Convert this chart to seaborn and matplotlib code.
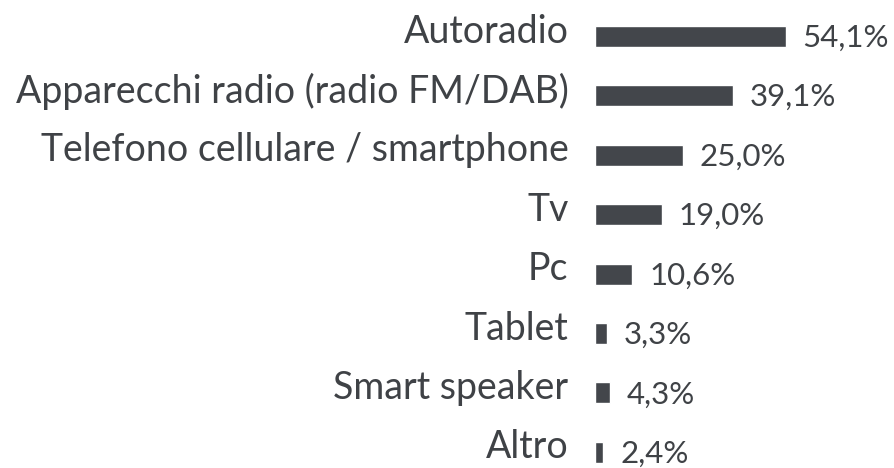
import matplotlib
matplotlib.use('Agg')
import matplotlib.pyplot as plt
import matplotlib.transforms as mtransforms
import seaborn as sns
import pandas as pd

# dati
categories = ['Autoradio', 'Apparecchi radio (radio FM/DAB)', 'Telefono cellulare / smartphone',
              'Tv', 'Pc', 'Tablet', 'Smart speaker', 'Altro']
values = [54.1, 39.1, 25.0, 19.0, 10.6, 3.3, 4.3, 2.4]
value_labels = ['54,1%', '39,1%', '25,0%', '19,0%', '10,6%', '3,3%', '4,3%', '2,4%']

df = pd.DataFrame({'device': categories, 'pct': values})

sns.set_style('white')
plt.rcParams['font.family'] = ['Lato', 'DejaVu Sans']

bar_color = '#43464b'
text_color = '#3f4246'

fig = plt.figure(figsize=(8.94, 4.68), dpi=100)
ax = fig.add_axes([595 / 894, 0, 299 / 894, 1])

sns.barplot(data=df, y='device', x='pct', color=bar_color, orient='h',
            width=0.355, saturation=1, ax=ax)

ax.set_xlim(0, 84.7)
ax.set_ylim(7.264, -0.614)
ax.set_xlabel('')
ax.set_ylabel('')
ax.set_xticks([])
sns.despine(ax=ax, left=True, bottom=True)

ax.tick_params(axis='y', length=0, pad=19, labelsize=27, labelcolor=text_color)
offset = mtransforms.ScaledTranslation(0, 6 / 72, fig.dpi_scale_trans)
for lbl in ax.get_yticklabels():
    lbl.set_transform(lbl.get_transform() + offset)

for i, (v, t) in enumerate(zip(values, value_labels)):
    ax.annotate(t, xy=(v, i), xytext=(12, -1), textcoords='offset points',
                va='center', ha='left', fontsize=22.5, color=text_color)

fig.savefig('out.png', dpi=100)
